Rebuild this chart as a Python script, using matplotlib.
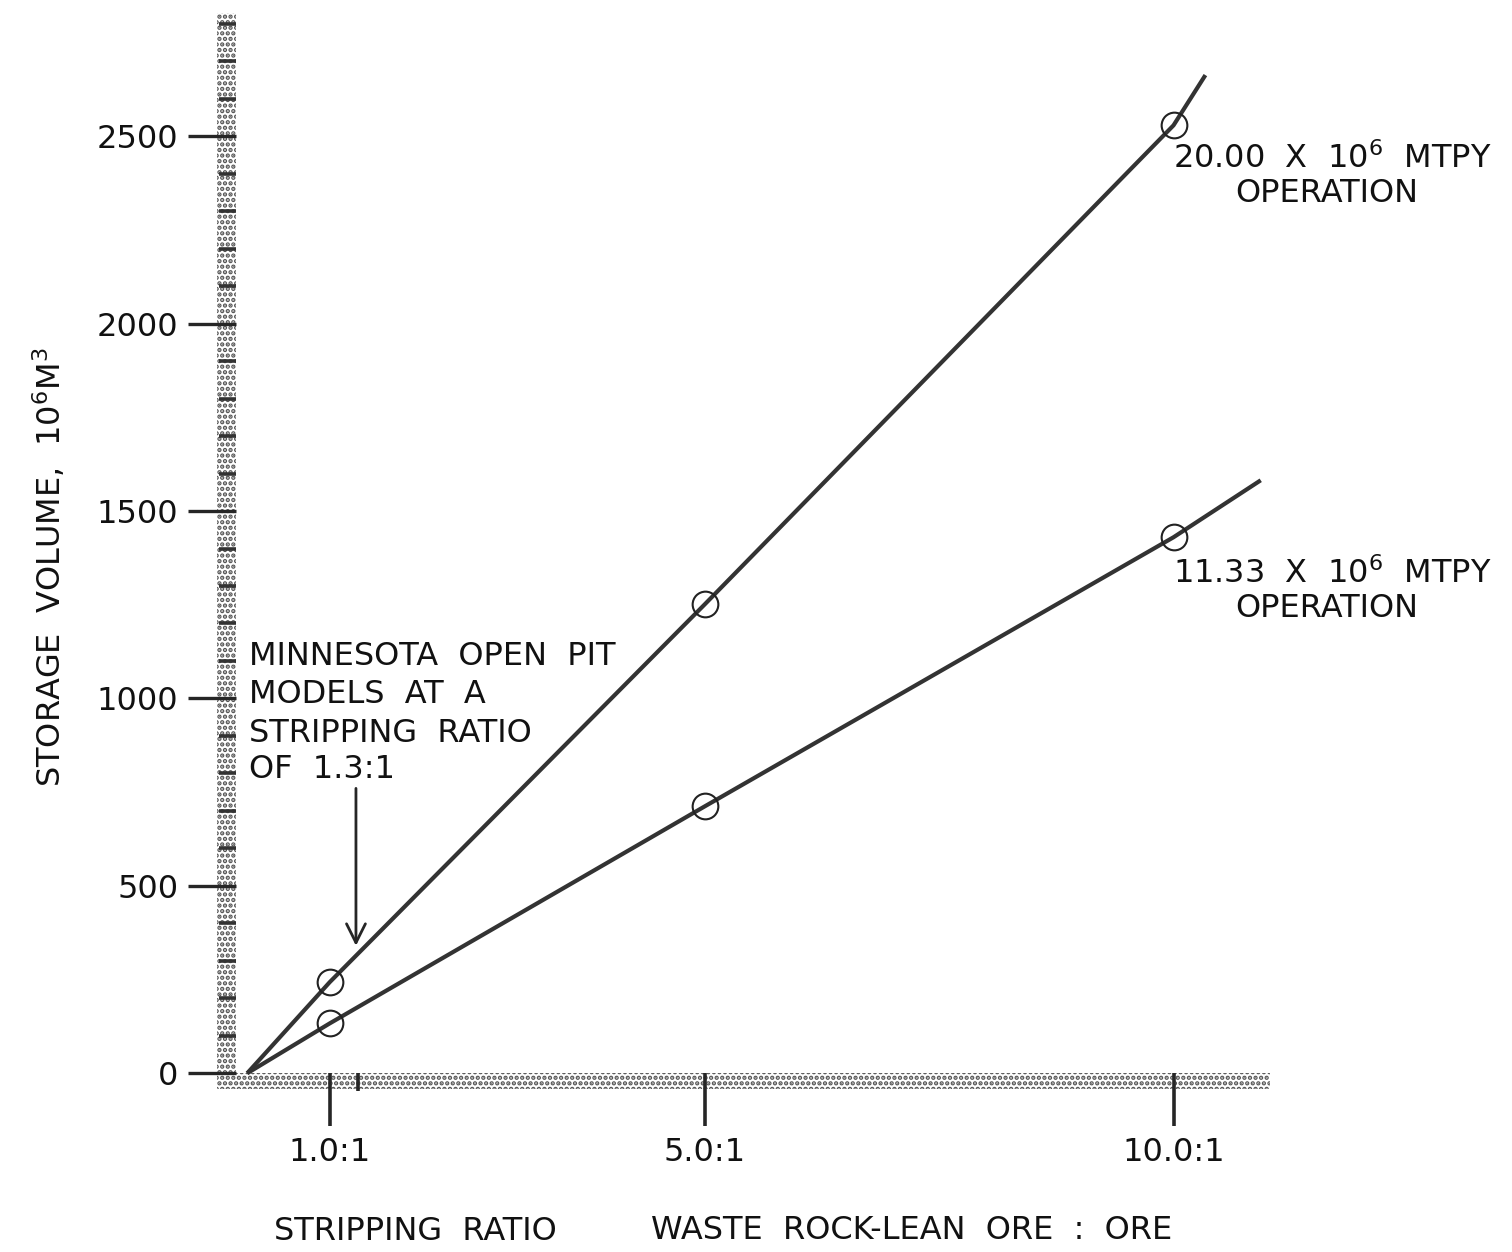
import matplotlib
matplotlib.use("Agg")
import matplotlib.pyplot as plt
from matplotlib.patches import Rectangle

plt.rcParams["font.family"] = ["DejaVu Sans"]
plt.rcParams["mathtext.default"] = "regular"
plt.rcParams["hatch.linewidth"] = 2.2

# Stripping ratio (waste rock-lean ore : ore) at the computed model points
ratio_points = [1.0, 5.0, 10.0]
# Storage volume, 10^6 m^3
vol_20mtpy = [243, 1251, 2529]
vol_1133mtpy = [133, 712, 1430]

# Drawn lines, including where they meet the axis and their far ends
line_20_x = [0.12, 1.0, 5.0, 10.0, 10.34]
line_20_y = [0, 243, 1251, 2529, 2663]
line_1133_x = [0.12, 1.0, 5.0, 10.0, 10.93]
line_1133_y = [0, 133, 712, 1430, 1582]

x_ticks = [1.0, 5.0, 10.0]
x_tick_labels = ["1.0:1", "5.0:1", "10.0:1"]
x_minor = [1.3]
y_ticks = [0, 500, 1000, 1500, 2000, 2500]
y_minor = [v for v in range(100, 2900, 100) if v % 500 != 0]

ink = "#262626"
FS = 23

fig = plt.figure(figsize=(15.12, 12.52), dpi=100)
ax = fig.add_axes([0.14365, 0.1278, 0.6976, 0.8682])
ax.set_xlim(-0.2, 11.05)
ax.set_ylim(-50, 2850)

# stippled axis bands
ax.add_patch(Rectangle((-0.2, -42), 0.2, 2872, facecolor="white",
                       edgecolor="#555555", hatch="...", linewidth=0, zorder=1))
ax.add_patch(Rectangle((-0.2, -42), 11.23, 42, facecolor="white",
                       edgecolor="#555555", hatch="...", linewidth=0, zorder=1))

for s in ax.spines.values():
    s.set_visible(False)
ax.spines["left"].set_position(("data", 0))
ax.spines["bottom"].set_position(("data", 0))

ax.set_yticks(y_ticks)
ax.set_yticks(y_minor, minor=True)
ax.set_xticks(x_ticks)
ax.set_xticklabels(x_tick_labels)
ax.set_xticks(x_minor, minor=True)

ax.tick_params(axis="y", which="major", direction="out", length=34.5, width=2.4,
               color=ink, labelsize=FS, pad=7, labelcolor="#111111")
ax.tick_params(axis="y", which="minor", direction="out", length=12, width=2.6,
               color="#333333")
ax.tick_params(axis="x", which="major", direction="out", length=38, width=2.6,
               color=ink, labelsize=FS, pad=8, labelcolor="#111111")
ax.tick_params(axis="x", which="minor", direction="out", length=13, width=2.6,
               color=ink)

# operation lines and their model points
ax.plot(line_20_x, line_20_y, color="#333333", lw=3.0, solid_capstyle="butt", zorder=3)
ax.plot(line_1133_x, line_1133_y, color="#333333", lw=3.0, solid_capstyle="butt", zorder=3)
ax.plot(ratio_points, vol_20mtpy, "o", ms=18.5, mfc="none", mec="#222222", mew=1.5, zorder=4)
ax.plot(ratio_points, vol_1133mtpy, "o", ms=18.5, mfc="none", mec="#222222", mew=1.5, zorder=4)

txt = dict(fontsize=FS, color="#111111")


def px(x, y):
    """Pixel position (from the top-left corner) to figure fraction."""
    return x / 1512, 1 - y / 1252


for (x, y), s in [((1332, 168), "20.00  X  10$^6$  MTPY"),
                  ((1327, 202), "OPERATION"),
                  ((1332, 583), "11.33  X  10$^6$  MTPY"),
                  ((1327, 617), "OPERATION")]:
    fig.text(*px(x, y), s, ha="center", va="baseline", **txt)

for y, s in zip([665, 703, 742, 778],
                ["MINNESOTA  OPEN  PIT", "MODELS  AT  A", "STRIPPING  RATIO", "OF  1.3:1"]):
    fig.text(*px(249, y), s, ha="left", va="baseline", **txt)

ax.annotate("", xy=(1.28, 340), xytext=(1.28, 760),
            arrowprops=dict(arrowstyle="->", color=ink, lw=2.0,
                            mutation_scale=34, shrinkA=0, shrinkB=0))

fig.text(*px(50, 567), "STORAGE  VOLUME,  10$^6$M$^3$", rotation=90,
         ha="center", va="center", **txt)
fig.text(*px(415, 1240), "STRIPPING  RATIO", ha="center", va="baseline", **txt)
fig.text(*px(912, 1239), "WASTE  ROCK-LEAN  ORE  :  ORE", ha="center",
         va="baseline", **txt)

fig.savefig("out.png", dpi=100, facecolor="white")
